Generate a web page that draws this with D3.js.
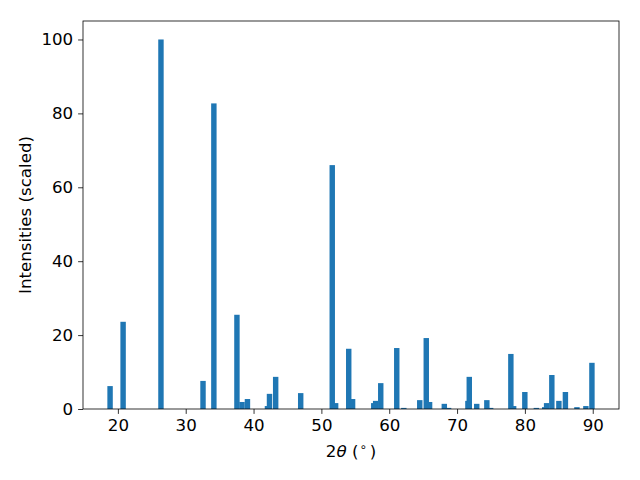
<!DOCTYPE html>
<html><head><meta charset="utf-8">
<script src="https://cdn.jsdelivr.net/npm/d3@7"></script>
<style>body{margin:0;background:#fff}svg{display:block}text{font-family:"DejaVu Sans",sans-serif}</style>
</head><body><svg id="c" width="640" height="480"></svg>
<script>
const angles = [18.85, 20.77, 26.35, 32.55, 34.15, 37.55, 38.3, 39.1, 42.05, 42.35, 43.26, 46.95, 51.6, 52.1, 54.03, 54.6, 57.72, 58.0, 58.75, 61.11, 62.15, 64.5, 65.46, 65.95, 68.12, 68.75, 71.6, 71.8, 72.9, 74.39, 74.95, 77.93, 78.34, 79.99, 81.69, 82.92, 83.2, 83.97, 85.01, 85.97, 87.67, 88.99, 89.88];
const intensities = [6.2, 23.6, 100, 7.6, 82.7, 25.5, 1.9, 2.7, 0.8, 4.1, 8.7, 4.3, 66.0, 1.6, 16.3, 2.7, 1.6, 2.2, 7.0, 16.5, 0.3, 2.4, 19.2, 1.9, 1.4, 0.3, 2.2, 8.7, 1.4, 2.4, 0.3, 14.9, 0.8, 4.6, 0.3, 0.5, 1.6, 9.2, 2.2, 4.6, 0.5, 0.8, 12.5];
const yTicks = [0, 20, 40, 60, 80, 100];
const xTicks = [20, 30, 40, 50, 60, 70, 80, 90];
const barWidth = 0.8;

const svg = d3.select("#c");
const L = 83, R = 619, T = 21, B = 409;
const FS = 16.67;
const lo = d3.min(angles) - barWidth/2, hi = d3.max(angles) + barWidth/2;
const pad = (hi - lo) * 0.05;
const x = d3.scaleLinear().domain([lo - pad, hi + pad]).range([L, R]);
const ymax = d3.max(intensities);
const y = d3.scaleLinear().domain([0, ymax * 1.05]).range([B, T]);

svg.append("g").selectAll("rect").data(angles).join("rect")
  .attr("x", (d) => x(d - barWidth/2))
  .attr("width", (d) => x(d + barWidth/2) - x(d - barWidth/2))
  .attr("y", (d, i) => y(intensities[i]))
  .attr("height", (d, i) => B - y(intensities[i]))
  .attr("fill", "#1f77b4");

const xa = svg.append("g").attr("transform", `translate(0,${B})`)
  .call(d3.axisBottom(x).tickValues(xTicks).tickSize(4.9).tickPadding(4.9).tickFormat(d3.format("d")));
const ya = svg.append("g").attr("transform", `translate(${L},0)`)
  .call(d3.axisLeft(y).tickValues(yTicks).tickSize(4.9).tickPadding(4.9).tickFormat(d3.format("d")));
[xa, ya].forEach(a => {
  a.select(".domain").remove();
  a.selectAll("line").attr("stroke", "#000").attr("stroke-width", 0.8);
  a.selectAll("text").attr("font-size", FS).attr("fill", "#000").style("font-family", "DejaVu Sans");
});

svg.append("rect").attr("x", L).attr("y", T).attr("width", R - L).attr("height", B - T)
  .attr("fill", "none").attr("stroke", "#000").attr("stroke-width", 0.8);

svg.append("text").attr("transform", `translate(31,${(T + B) / 2}) rotate(-90)`)
  .attr("text-anchor", "middle").attr("font-size", FS).text("Intensities (scaled)");

const xl = svg.append("text").attr("x", (L + R) / 2).attr("y", 457).attr("text-anchor", "middle").attr("font-size", FS);
xl.append("tspan").text("2");
xl.append("tspan").attr("font-style", "italic").text("θ");
xl.append("tspan").text(" (");
xl.append("tspan").attr("font-size", 11.7).attr("dy", -6).attr("dx", 1).text("∘");
xl.append("tspan").attr("dy", 6).attr("dx", 3).text(")");
</script></body></html>
